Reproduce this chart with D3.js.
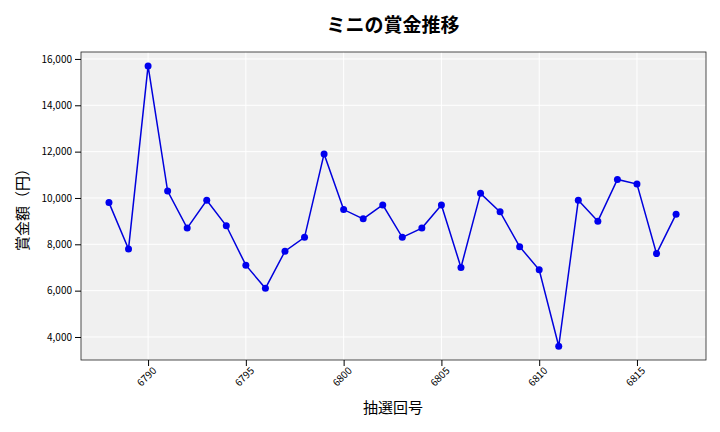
<!DOCTYPE html>
<html><head><meta charset="utf-8">
<script src="https://cdn.jsdelivr.net/npm/d3@7"></script>
<style>body{margin:0;background:#fff}</style>
</head><body><svg id="c" width="720" height="432"></svg>
<script>
const draws=[6788,6789,6790,6791,6792,6793,6794,6795,6796,6797,6798,6799,6800,6801,6802,6803,6804,6805,6806,6807,6808,6809,6810,6811,6812,6813,6814,6815,6816,6817];
const prizes=[9800,7800,15700,10300,8700,9900,8800,7100,6100,7700,8300,11900,9500,9100,9700,8300,8700,9700,7000,10200,9400,7900,6900,3600,9900,9000,10800,10600,7600,9300];
const xTicks=[6790,6795,6800,6805,6810,6815];
const yTicks=[4000,6000,8000,10000,12000,14000,16000];
const font="'Noto Sans CJK JP','Noto Sans',sans-serif";
const svg=d3.select("#c");
const L=81,R=706,T=52,B=360;
const x=d3.scaleLinear().domain([6786.57,6818.53]).range([L,R]);
const y=d3.scaleLinear().domain([3007,16300]).range([B,T]);
svg.append("rect").attr("x",L).attr("y",T).attr("width",R-L).attr("height",B-T).attr("fill","#f0f0f0");
svg.append("g").selectAll("line").data(xTicks).join("line").attr("x1",d=>x(d)).attr("x2",d=>x(d)).attr("y1",T).attr("y2",B).attr("stroke","#fff").attr("stroke-width",1);
svg.append("g").selectAll("line").data(yTicks).join("line").attr("y1",d=>y(d)).attr("y2",d=>y(d)).attr("x1",L).attr("x2",R).attr("stroke","#fff").attr("stroke-width",1);
svg.append("rect").attr("x",L).attr("y",T).attr("width",R-L).attr("height",B-T).attr("fill","none").attr("stroke","#222").attr("stroke-width",0.8);
const xa=svg.append("g").attr("transform",`translate(0,${B})`).call(d3.axisBottom(x).tickValues(xTicks).tickFormat(d3.format("d")).tickSizeOuter(0));
xa.select(".domain").remove();
xa.selectAll("text").attr("font-family",font).attr("font-size",10).attr("text-anchor","end").attr("dx","-0.2em").attr("dy","0.5em").attr("transform","rotate(-45)");
const ya=svg.append("g").attr("transform",`translate(${L},0)`).call(d3.axisLeft(y).tickValues(yTicks).tickFormat(d3.format(",")).tickSizeOuter(0));
ya.select(".domain").remove();
ya.selectAll("text").attr("font-family",font).attr("font-size",10);
const line=d3.line().x((d,i)=>x(draws[i])).y(d=>y(d));
svg.append("path").datum(prizes).attr("d",line).attr("fill","none").attr("stroke","#0000dd").attr("stroke-width",1.5);
svg.append("g").selectAll("circle").data(prizes).join("circle").attr("cx",(d,i)=>x(draws[i])).attr("cy",d=>y(d)).attr("r",3.5).attr("fill","#0000ee");
svg.append("text").attr("x",393).attr("y",32).attr("text-anchor","middle").attr("font-family",font).attr("font-size",19).attr("font-weight","bold").text("ミニの賞金推移");
svg.append("text").attr("x",393).attr("y",413).attr("text-anchor","middle").attr("font-family",font).attr("font-size",15).text("抽選回号");
svg.append("text").attr("transform","translate(28,206) rotate(-90)").attr("text-anchor","middle").attr("font-family",font).attr("font-size",15).text("賞金額（円）");
</script></body></html>
